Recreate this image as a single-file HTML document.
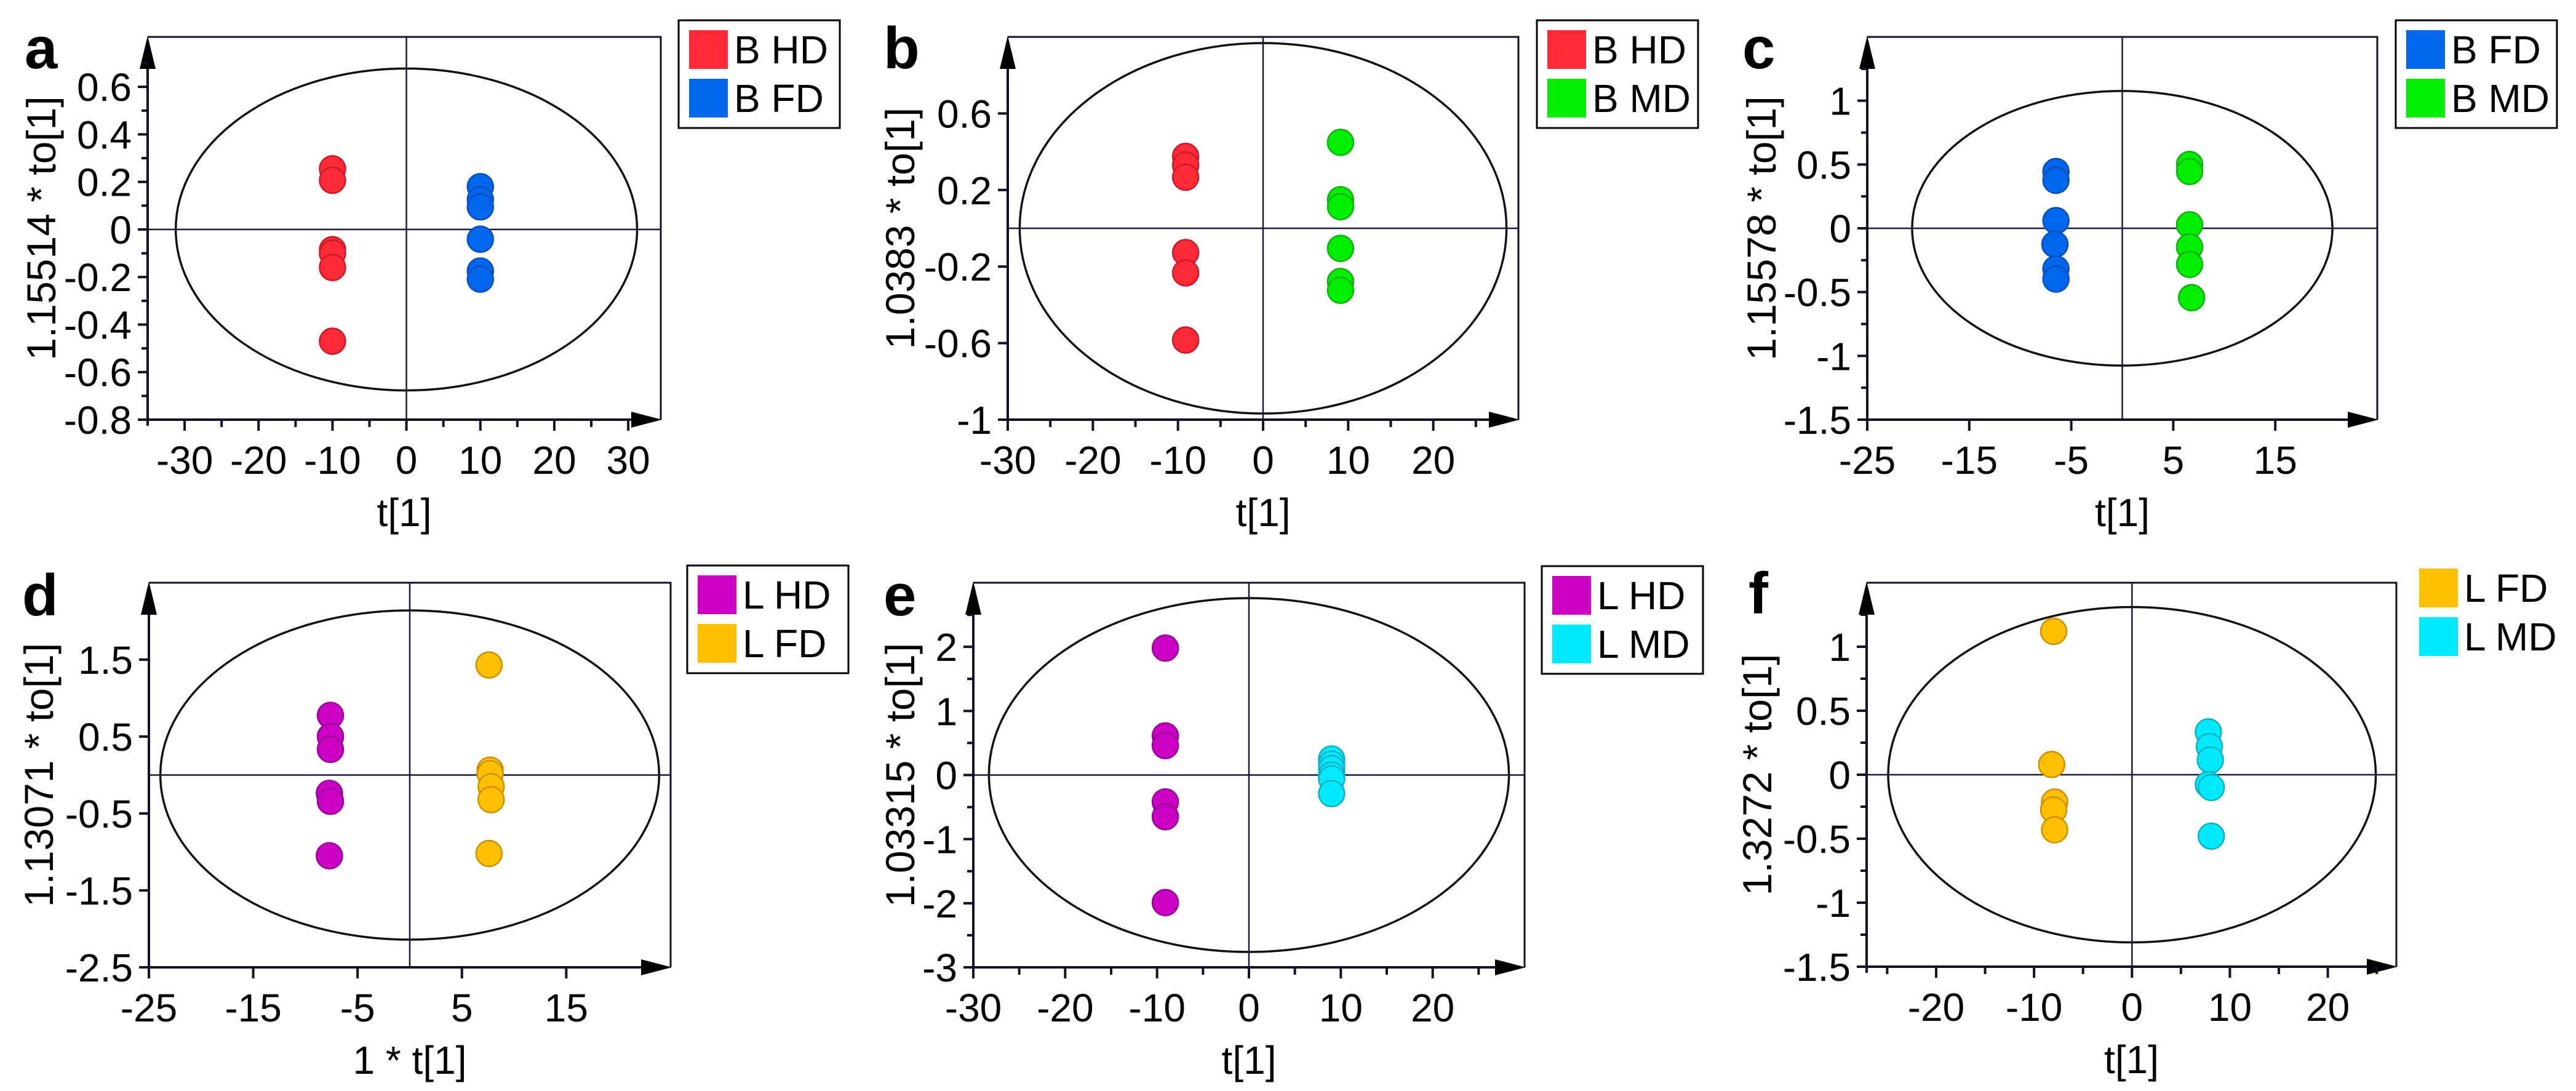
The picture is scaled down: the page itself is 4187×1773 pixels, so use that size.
<!DOCTYPE html>
<html><head><meta charset="utf-8"><title>OPLS-DA score plots</title>
<style>html,body{margin:0;padding:0;background:#fff}svg{display:block}text{font-family:"Liberation Sans",Arial,sans-serif;fill:#000}</style>
</head><body>
<svg id="fig" xmlns="http://www.w3.org/2000/svg" width="4187" height="1773" viewBox="0 0 4187 1773"></svg>
<script>
// ---- data ----
const aHD_x=[-10,-10,-10,-10,-10,-10];
const aHD_y=[0.255,0.207,-0.085,-0.10,-0.16,-0.47];
const aFD_x=[10,10,10,10,10,10];
const aFD_y=[0.18,0.126,0.095,-0.041,-0.175,-0.209];
const bHD_x=[-9.1,-9.1,-9.1,-9.1,-9.1,-9.1];
const bHD_y=[0.376,0.33,0.267,-0.127,-0.233,-0.584];
const bMD_x=[9.1,9.1,9.1,9.1,9.1,9.1];
const bMD_y=[0.449,0.149,0.113,-0.105,-0.278,-0.324];
const cFD_x=[-6.5,-6.5,-6.5,-6.6,-6.5,-6.5];
const cFD_y=[0.445,0.376,0.06,-0.126,-0.319,-0.398];
const cMD_x=[6.6,6.6,6.6,6.6,6.6,6.8];
const cMD_y=[0.5,0.445,0.027,-0.146,-0.283,-0.544];
const dHD_x=[-7.6,-7.6,-7.6,-7.7,-7.6,-7.7];
const dHD_y=[0.775,0.5,0.333,-0.239,-0.342,-1.05];
const dFD_x=[7.6,7.7,7.7,7.8,7.8,7.6];
const dFD_y=[1.43,0.063,0.018,-0.153,-0.32,-1.02];
const eHD_x=[-9.1,-9.1,-9.1,-9.1,-9.1,-9.1];
const eHD_y=[1.98,0.61,0.46,-0.42,-0.65,-1.99];
const eMD_x=[9.0,9.0,9.0,9.0,9.0,9.0];
const eMD_y=[0.25,0.17,0.1,0.0,-0.06,-0.29];
const fFD_x=[-8.0,-8.2,-7.9,-8.0,-7.9];
const fFD_y=[1.12,0.08,-0.214,-0.275,-0.43];
const fMD_x=[7.8,7.9,8.0,7.8,8.1,8.1];
const fMD_y=[0.335,0.22,0.115,-0.077,-0.1,-0.48];
// tick labels
const aXTicks=[-30,-20,-10,0,10,20,30], aYTicks=[-0.8,-0.6,-0.4,-0.2,0,0.2,0.4,0.6];
const bXTicks=[-30,-20,-10,0,10,20], bYTicks=[-1,-0.6,-0.2,0.2,0.6];
const cXTicks=[-25,-15,-5,5,15], cYTicks=[-1.5,-1,-0.5,0,0.5,1];
const dXTicks=[-25,-15,-5,5,15], dYTicks=[-2.5,-1.5,-0.5,0.5,1.5];
const eXTicks=[-30,-20,-10,0,10,20], eYTicks=[-3,-2,-1,0,1,2];
const fXTicks=[-20,-10,0,10,20], fYTicks=[-1.5,-1,-0.5,0,0.5,1];
// minor tick values
const aXMinor=[-25,-15,-5,5,15,25], aYMinor=[-0.7,-0.5,-0.3,-0.1,0.1,0.3,0.5,0.7];
const bXMinor=[-25,-15,-5,5,15,25], bYMinor=[];
const cXMinor=[], cYMinor=[-1.25,-0.75,-0.25,0.25,0.75,1.25];
const dXMinor=[], dYMinor=[];
const eXMinor=[-25,-15,-5,5,15,25], eYMinor=[-2.5,-1.5,-0.5,0.5,1.5,2.5];
const fXMinor=[-25,-15,-5,5,15,25], fYMinor=[-1.25,-0.75,-0.25,0.25,0.75,1.25];
// ellipse radii (data units)
const aEll=[31.2,0.677], bEll=[28.6,0.968], cEll=[20.6,1.076], dEll=[23.9,2.14], eEll=[28.3,2.76], fEll=[24.9,1.31];

const COL={HD:['#ff2a38','#cc1a26'],FD:['#0066ee','#0a4fb8'],MD:['#00ee00','#10b010'],LHD:['#cc00c4','#990099'],LFD:['#ffc000','#cc9000'],LMD:['#00eaff','#10b0c0']};

const panels=[
 {id:'a',L:240,R:1074,T:60,B:682,xmin:-35,xmax:34.4,ymin:-0.8,ymax:0.81,xt:aXTicks,yt:aYTicks,xm:aXMinor,ym:aYMinor,ell:aEll,
  series:[[aHD_x,aHD_y,'HD','B HD'],[aFD_x,aFD_y,'FD','B FD']],leg:[1103,33],letter:[40,111],ytx:67,ytitle:'1.15514 * to[1]',xtitle:'t[1]',box:true},
 {id:'b',L:1638,R:2468,T:60,B:682,xmin:-30,xmax:30,ymin:-1,ymax:1,xt:bXTicks,yt:bYTicks,xm:bXMinor,ym:bYMinor,ell:bEll,
  series:[[bHD_x,bHD_y,'HD','B HD'],[bMD_x,bMD_y,'MD','B MD']],leg:[2498,33],letter:[1436,111],ytx:1463,ytitle:'1.0383 * to[1]',xtitle:'t[1]',box:true},
 {id:'c',L:3035,R:3864,T:60,B:682,xmin:-25,xmax:25,ymin:-1.5,ymax:1.5,xt:cXTicks,yt:cYTicks,xm:cXMinor,ym:cYMinor,ell:cEll,
  series:[[cFD_x,cFD_y,'FD','B FD'],[cMD_x,cMD_y,'MD','B MD']],leg:[3894,33],letter:[2832,111],ytx:2863,ytitle:'1.15578 * to[1]',xtitle:'t[1]',box:true},
 {id:'d',L:242,R:1090,T:947,B:1572,xmin:-25,xmax:25,ymin:-2.5,ymax:2.5,xt:dXTicks,yt:dYTicks,xm:dXMinor,ym:dYMinor,ell:dEll,
  series:[[dHD_x,dHD_y,'LHD','L HD'],[dFD_x,dFD_y,'LFD','L FD']],leg:[1117,919],letter:[36,1000],ytx:63,ytitle:'1.13071 * to[1]',xtitle:'1 * t[1]',box:true},
 {id:'e',L:1582,R:2478,T:947,B:1572,xmin:-30,xmax:30,ymin:-3,ymax:3,xt:eXTicks,yt:eYTicks,xm:eXMinor,ym:eYMinor,ell:eEll,
  series:[[eHD_x,eHD_y,'LHD','L HD'],[eMD_x,eMD_y,'LMD','L MD']],leg:[2506,920],letter:[1436,1000],ytx:1463,ytitle:'1.03315 * to[1]',xtitle:'t[1]',box:true},
 {id:'f',L:3034,R:3895,T:947,B:1571,xmin:-27.1,xmax:27,ymin:-1.5,ymax:1.5,xt:fXTicks,yt:fYTicks,xm:fXMinor,ym:fYMinor,ell:fEll,
  series:[[fFD_x,fFD_y,'LFD','L FD'],[fMD_x,fMD_y,'LMD','L MD']],leg:[3915,908],letter:[2842,997],ytx:2856,ytitle:'1.3272 * to[1]',xtitle:'t[1]',box:false}
];
const NS='http://www.w3.org/2000/svg';
const svg=document.getElementById('fig');
function el(tag,attrs,parent){const e=document.createElementNS(NS,tag);for(const k in attrs)e.setAttribute(k,attrs[k]);parent.appendChild(e);return e;}
const AX='#111128';
panels.forEach(p=>{
  const g=el('g',{},svg);
  
  
  const sx=v=>p.L+(v-p.xmin)/(p.xmax-p.xmin)*(p.R-p.L);
  const sy=v=>p.B-(v-p.ymin)/(p.ymax-p.ymin)*(p.B-p.T);
  const x0=sx(0), y0=sy(0);
  // frame top/right
  const fr=el('path',{d:`M${p.L},${p.T} H${p.R} V${p.B}`,fill:'none',stroke:AX,'stroke-width':3},g);
  
  
  // ellipse
  const ell=el('ellipse',{cx:x0,cy:y0,rx:sx(p.ell[0])-x0,ry:y0-sy(p.ell[1]),fill:'none',stroke:'#111','stroke-width':3.5},g);
  
  
  // crosshair
  const ch=el('path',{d:`M${x0},${p.T} V${p.B} M${p.L},${y0} H${p.R}`,stroke:'#1a1a40','stroke-width':2.5},g);
  
  
  // points
  p.series.forEach(s=>{
    const sg=el('g',{},g);
    
    
    const c=COL[s[2]];
    s[0].forEach((xv,i)=>{
      const pt=el('circle',{cx:sx(xv),cy:sy(s[1][i]),r:21,fill:c[0],stroke:c[1],'stroke-width':2.5},sg);
      
      
    });
  });
  // axes
  const ax=el('path',{d:`M${p.L},${p.T+50} V${p.B+10} M${p.L-16},${p.B} H${p.R-48}`,stroke:AX,'stroke-width':4,fill:'none'},g);
  
  
  const ya=el('polygon',{points:`${p.L},${p.T-2} ${p.L-13},${p.T+52} ${p.L+13},${p.T+52}`,fill:'#000'},g);
  
  
  const xa=el('polygon',{points:`${p.R+2},${p.B} ${p.R-48},${p.B-13} ${p.R-48},${p.B+13}`,fill:'#000'},g);
  
  
  // ticks
  let d='';
  p.xt.forEach(v=>{d+=`M${sx(v)},${p.B} v18 `;});
  p.xm.forEach(v=>{d+=`M${sx(v)},${p.B} v12 `;});
  p.yt.forEach(v=>{d+=`M${p.L},${sy(v)} h-16 `;});
  p.ym.forEach(v=>{d+=`M${p.L},${sy(v)} h-10 `;});
  const tk=el('path',{d:d,stroke:AX,'stroke-width':4},g);
  
  
  p.xt.forEach(v=>{
    const t=el('text',{x:sx(v),y:p.B+88,'font-size':64,'text-anchor':'middle'},g);
    t.textContent=String(v);
    
    
  });
  p.yt.forEach(v=>{
    const t=el('text',{x:p.L-26,y:sy(v)+23,'font-size':64,'text-anchor':'end'},g);
    t.textContent=String(v);
    
    
  });
  const xt=el('text',{x:(p.L+p.R)/2,y:p.B+173,'font-size':64,'text-anchor':'middle'},g);
  xt.textContent=p.xtitle;
  
  
  const ytc=(p.T+p.B)/2;
  const yt=el('text',{x:p.ytx,y:ytc,'font-size':66,'text-anchor':'middle','dominant-baseline':'central',transform:`rotate(-90 ${p.ytx} ${ytc})`},g);
  yt.textContent=p.ytitle;
  
  
  const lt=el('text',{x:p.letter[0],y:p.letter[1],'font-size':96,'font-weight':'bold'},g);
  lt.textContent=p.id;
  
  
  // legend
  const lg=el('g',{},g);
  
  
  const lx=p.leg[0], ly=p.leg[1];
  if(p.box){
    const bx=el('rect',{x:lx,y:ly,width:262,height:175,fill:'#fff',stroke:'#000','stroke-width':3},lg);
    
    
  }
  p.series.forEach((s,i)=>{
    const sw=el('rect',{x:lx+17,y:ly+16+i*79,width:63,height:63,fill:COL[s[2]][0]},lg);
    
    
    const tx=el('text',{x:lx+90,y:ly+70+i*79,'font-size':64},lg);
    tx.textContent=s[3];
    
    
  });
});
</script>
</body></html>
